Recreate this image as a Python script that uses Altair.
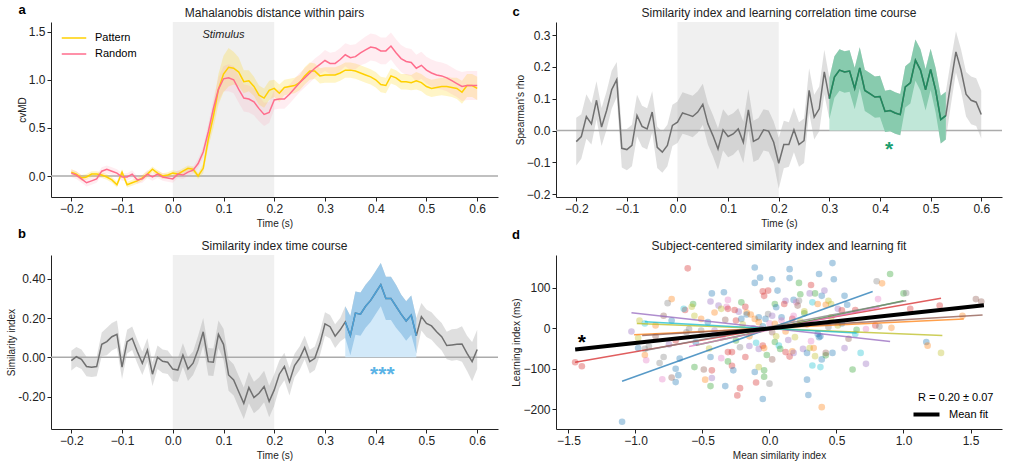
import altair as alt
import numpy as np
import pandas as pd

FONT = "Liberation Sans"
INK = "#222222"

# ---------------------------------------------------------------- data
# sample times (s), 10 ms steps
time_s = np.round(np.arange(-20, 61) / 100, 2)

# a) cross-validated Mahalanobis distance
pattern_md = [0.04, 0.02, -0.02, -0.01, 0.02, 0.02, 0.01, -0.01, -0.04, -0.09,
              0.04, -0.09, -0.07, -0.05, -0.02, 0.02, 0.07, 0.03, 0.00, 0.01,
              0.03, 0.02, 0.05, 0.08, 0.07, 0.00, 0.08, 0.38, 0.62, 0.90,
              1.06, 1.13, 1.12, 1.08, 0.98, 0.99, 0.93, 0.84, 0.81, 0.89,
              0.91, 0.86, 0.92, 0.93, 0.94, 0.97, 1.04, 1.09, 1.09, 1.04,
              1.05, 1.05, 1.05, 1.07, 1.10, 1.10, 1.09, 1.07, 1.05, 1.03,
              1.00, 0.95, 0.94, 1.04, 1.02, 0.98, 0.98, 0.97, 0.99, 0.97,
              0.93, 0.91, 0.92, 0.93, 0.93, 0.92, 0.91, 0.87, 0.94, 0.94, 0.91]
pattern_sem = [0.03] * 20 + \
              [0.03, 0.03, 0.03, 0.03, 0.03, 0.03, 0.05, 0.08, 0.12, 0.16,
               0.19, 0.20, 0.17, 0.15, 0.12, 0.11, 0.10, 0.10, 0.10, 0.10,
               0.09, 0.09, 0.08, 0.08, 0.08, 0.08, 0.09, 0.09, 0.08, 0.08,
               0.08, 0.08, 0.08, 0.08, 0.08, 0.08, 0.08, 0.08, 0.08, 0.08,
               0.08, 0.08, 0.08, 0.08, 0.08, 0.08, 0.08, 0.08, 0.09, 0.09,
               0.09, 0.09, 0.09, 0.09, 0.10, 0.10, 0.11, 0.12, 0.12, 0.12, 0.12]
random_md = [0.03, 0.01, -0.03, -0.07, -0.05, -0.03, 0.05, 0.07, 0.05, 0.03,
             -0.01, -0.01, 0.02, -0.04, -0.03, 0.02, -0.01, 0.02, -0.01, -0.02,
             -0.03, 0.02, 0.01, 0.04, 0.06, 0.13, 0.25, 0.46, 0.70, 0.90,
             1.01, 1.02, 1.00, 0.90, 0.81, 0.80, 0.77, 0.70, 0.64, 0.66,
             0.79, 0.80, 0.80, 0.85, 0.91, 0.97, 1.02, 1.07, 1.12, 1.16,
             1.20, 1.17, 1.17, 1.21, 1.26, 1.23, 1.24, 1.28, 1.31, 1.34,
             1.33, 1.30, 1.30, 1.35, 1.28, 1.22, 1.19, 1.18, 1.12, 1.15,
             1.10, 1.07, 1.05, 1.04, 1.02, 0.99, 0.96, 0.93, 0.94, 0.94, 0.94]
random_sem = [0.04] * 25 + \
             [0.05, 0.06, 0.08, 0.10, 0.12,
              0.13, 0.14, 0.14, 0.14, 0.14, 0.14, 0.14, 0.13, 0.12, 0.11,
              0.10, 0.10, 0.10, 0.10, 0.10, 0.10, 0.10, 0.10, 0.10, 0.10,
              0.11, 0.11, 0.12, 0.12, 0.12, 0.13, 0.13, 0.13, 0.14, 0.14,
              0.14, 0.14, 0.14, 0.14, 0.14, 0.14, 0.14, 0.14, 0.14, 0.14,
              0.14, 0.14, 0.14, 0.14, 0.14, 0.14, 0.14, 0.15, 0.15, 0.15, 0.15]

# b) similarity index
sim_index = [-0.017, 0.003, -0.010, -0.047, -0.050, -0.047, 0.066, 0.080, 0.105, 0.117,
             -0.050, 0.080, 0.097, 0.030, -0.030, 0.037, -0.086, 0.000, -0.020, -0.025,
             -0.060, -0.065, 0.012, -0.060, -0.030, 0.040, 0.130, -0.022, -0.025, 0.117,
             0.066, -0.090, -0.115, -0.175, -0.234, -0.154, -0.205, -0.183, -0.149, -0.225,
             -0.166, -0.086, -0.047, -0.124, -0.042, -0.005, 0.050, -0.022, -0.005, 0.070,
             0.170, 0.156, 0.108, 0.140, 0.180, 0.110, 0.225, 0.220, 0.260, 0.290,
             0.330, 0.370, 0.300, 0.300, 0.260, 0.220, 0.185, 0.215, 0.110, 0.207,
             0.173, 0.160, 0.130, 0.105, 0.060, 0.063, 0.066, 0.068, 0.020, -0.022, 0.040]
sim_sem = [0.05, 0.05, 0.05, 0.05, 0.05, 0.05, 0.06, 0.07, 0.07, 0.07,
           0.06, 0.06, 0.06, 0.06, 0.06, 0.06, 0.06, 0.06, 0.06, 0.06,
           0.06, 0.06, 0.06, 0.06, 0.06, 0.07, 0.07, 0.07, 0.07, 0.07,
           0.08, 0.08, 0.08, 0.08, 0.08, 0.08, 0.08, 0.08, 0.08, 0.08,
           0.08, 0.07, 0.07, 0.07, 0.06, 0.06, 0.06, 0.06, 0.06, 0.06,
           0.06, 0.06, 0.06, 0.06, 0.08, 0.10, 0.11, 0.11, 0.11, 0.11,
           0.11, 0.11, 0.11, 0.11, 0.11, 0.10, 0.10, 0.10, 0.09, 0.07,
           0.07, 0.07, 0.07, 0.07, 0.07, 0.08, 0.08, 0.09, 0.09, 0.10, 0.10]
sim_window = (0.34, 0.48)

# c) Spearman correlation of similarity index with learning
rho = [-0.035, -0.019, 0.044, 0.021, 0.095, 0.011, 0.063, 0.128, 0.160, -0.056,
       -0.060, -0.047, 0.047, 0.013, 0.005, 0.058, -0.053, -0.068, -0.047, 0.016,
       0.026, 0.055, 0.050, 0.044, 0.058, 0.082, 0.021, -0.016, -0.058, 0.002,
       -0.019, -0.011, 0.005, -0.037, 0.065, -0.034, -0.026, 0.002, -0.002, -0.037,
       -0.103, -0.044, -0.044, 0.002, -0.044, -0.032, 0.126, 0.042, 0.068, 0.184,
       0.100, 0.168, 0.190, 0.184, 0.187, 0.132, 0.197, 0.126, 0.116, 0.105,
       0.107, 0.060, 0.063, 0.055, 0.050, 0.137, 0.150, 0.221, 0.190, 0.128,
       0.192, 0.126, 0.034, 0.047, 0.150, 0.247, 0.190, 0.114, 0.095, 0.089, 0.050]
rho_sem = [0.075, 0.070, 0.070, 0.065, 0.060, 0.060, 0.060, 0.060, 0.055, 0.060] + \
          [0.065] * 30 + \
          [0.080, 0.075, 0.070, 0.070, 0.070, 0.070, 0.070, 0.070, 0.070, 0.070] + \
          [0.065] * 20 + \
          [0.065, 0.070, 0.075, 0.075, 0.070, 0.065, 0.065, 0.070, 0.075, 0.075, 0.075]
rho_window = (0.30, 0.53)

# d) subject-centred similarity index vs learning index, one colour per subject
subject_colors = ["#1f77b4", "#ff7f0e", "#2ca02c", "#d62728", "#9467bd",
                  "#8c564b", "#e377c2", "#7f7f7f", "#bcbd22", "#17becf"]
pt_x = [-0.61, -0.11, -0.07, -0.11, 0.02, 0.06, -0.01, -0.05, -0.04, -0.43, -0.34, -0.73, -0.76,
        -0.44, -0.38, -0.57, -0.58, -0.31, -0.32, -0.21, -0.18, -0.23, -0.17, -0.31, -0.26, -0.36,
        -0.41, -0.63, -0.64, -0.17, -0.14, -0.11, -0.08, -0.03, -0.01, 0.04, 0.05, 0.02, 0.09,
        -1.03, -0.97, -0.98, -0.93, -0.85, -0.79, -0.73, -0.56, -0.51, -0.46, -0.33, -0.25, -0.21,
        -0.60, -0.51, -0.41, -0.08, -0.06, 0.00, 0.04, 0.09,
        0.47, 0.15, 0.15, 0.37, 0.48, 0.90, 0.80, 0.84, 0.22, 0.31, 0.34, 0.23, 0.30, 0.39, 0.41,
        0.18, 0.12, 0.11, 0.20, 0.22, 0.32, 0.21, 0.44, 0.36, 0.42, 0.46, 0.56, 0.58, 0.51, 0.54,
        0.64, 0.81, 1.00, 1.02, 1.05, 1.27, 1.44, 1.54, 1.58, 0.79, 0.82, 0.91, 0.72, 0.65, 0.59,
        0.64, 0.51, 0.44, 0.36, 0.46, 0.54, 0.37, 0.26, 0.23, 0.17, 0.18, 0.26, 0.14, 0.31, 0.38,
        -1.45, -1.40, -0.98, -0.93, -0.93, -0.92, -0.79, -0.82, -0.67, -0.70, -0.68, -0.70, -0.73,
        -0.80, -1.10, -0.56, -0.49, -0.43, -0.43, -0.48, -0.44, -0.33, -0.36, -0.44, -0.31, -0.28,
        -0.27, -0.31, -0.28, -0.22, -0.18, -0.15, -0.10, -0.08, -0.05, -0.04, -0.11, -0.08, -0.10,
        -0.22, -0.24, -0.04, -0.04, 0.00, -0.05, -0.02, 0.02, 0.04, 0.07, 0.08,
        1.17, 1.18, 1.28, 0.19, 0.12, 0.15, 0.17, 0.18, 0.25, 0.28, 0.30, 0.33, 0.34, 0.39, 0.42,
        0.42, 0.47, 0.56, 0.68, 0.72, 0.62, 0.32, 0.38, 0.28, 0.29, 0.39,
        -0.85, -0.70, -0.62, -0.55, -0.35, -0.15, -0.12, 0.02, -0.20, 0.10, 0.05, -0.05, -0.90,
        -0.75, -0.25, 0.12, 0.28, -0.45]
pt_y = [148, 150, 125, 112, 121, 93, 93, 91, 80, 86, 89, 72, 62,
        66, 56, 60, 53, 70, 53, 64, 53, 41, 39, 48, 45, 48,
        39, 45, 48, 34, 34, 23, 27, 23, 35, 60, 52, 31, 27,
        -8, 19, -24, 12, 7, 31, 19, 31, 23, 15, 21, 19, 23,
        -2, -6, -6, 15, -2, 12, 11, 19,
        161, 146, 124, 134, 121, 134, 116, 111, 112, 107, 86, 84, 86, 80, 93,
        70, 68, 60, 64, 68, 64, 56, 68, 60, 58, 60, 80, 58, 48, 44,
        45, 72, 86, 87, 48, 56, 31, 72, 66, 7, 4, 1, -2, -4, -26,
        -14, 7, 3, -14, 27, 12, -22, 37, 17, 23, 31, 42, -29, -32, -20,
        -84, -94, -49, -51, -66, -79, -71, -86, -75, -100, -116, -133, -122,
        -126, -231, -96, -102, -104, -123, -127, -143, -143, -74, -71, -82, -93,
        -104, -59, -59, -47, -71, -44, -36, -51, -43, -49, -108, -96, -134,
        -148, -166, -104, -120, -137, -175, -66, -77, -34, -43, -51,
        -34, -43, -61, -22, -59, -70, -57, -61, -51, -61, -49, -49, -69, -77, -67,
        -61, -61, -49, -61, -88, -102, -92, -96, -127, -165, -195,
        -20, -30, -10, -35, -20, -20, 0, -10, 10, 5, -20, 5, -45,
        -40, -30, -8, 10, -50]
pt_subject = [3, 0, 0, 0, 0, 0, 3, 3, 3, 0, 0, 1, 7,
              4, 4, 2, 8, 6, 6, 2, 3, 4, 1, 3, 3, 8,
              1, 3, 9, 0, 1, 1, 0, 0, 7, 2, 0, 4, 0,
              4, 8, 8, 9, 1, 5, 0, 8, 1, 0, 5, 3, 0,
              7, 7, 4, 1, 1, 6, 1, 6,
              0, 0, 0, 0, 0, 2, 7, 1, 2, 3, 2, 2, 4, 0, 4,
              0, 4, 3, 6, 7, 9, 5, 8, 1, 1, 8, 0, 0, 4, 3,
              3, 6, 2, 7, 3, 3, 1, 5, 5, 3, 7, 1, 6, 2, 5,
              9, 8, 7, 0, 8, 0, 0, 2, 8, 3, 6, 8, 4, 6, 0,
              3, 3, 0, 7, 1, 6, 7, 7, 0, 0, 0, 0, 5,
              6, 0, 2, 5, 3, 4, 1, 2, 0, 6, 0, 2, 3,
              0, 3, 3, 7, 3, 4, 9, 4, 3, 1, 0, 8, 3,
              3, 3, 2, 2, 7, 0, 2, 5, 2, 9, 2,
              0, 1, 8, 8, 3, 3, 1, 4, 4, 0, 8, 1, 8, 0, 2,
              5, 0, 4, 9, 4, 2, 9, 9, 0, 0, 1,
              5, 3, 7, 0, 6, 1, 4, 5, 8, 2, 8, 0, 7,
              4, 2, 1, 3, 8]

# per-subject linear fits: colour index, start (x, y), end (x, y)
fit_subject = [0, 3, 4, 8, 1, 5, 2, 7, 6, 9]
fit_x0 = [-1.10, -1.45, -1.03, -0.99, -1.01, -0.95, -0.55, -0.93, -0.60, -0.93]
fit_y0 = [-131, -84, 38, 12, -16, -18, -42, -55, -45, 16]
fit_x1 = [0.77, 1.28, 0.90, 1.29, 1.45, 1.59, 1.00, 1.02, 0.82, 0.65]
fit_y1 = [91, 74, -33, -18, 23, 33, 68, 68, 52, -12]

# group-level fit
mean_fit_x = [-1.45, 1.60]
mean_fit_y = [-52.5, 57.0]

# ---------------------------------------------------------------- styling
GOLD = "#ffd000"
PINK = "#ff6d8c"
GRAY_LINE = "#707070"
BLUE_LINE = "#4aa0d8"
BLUE_BAND = "#a0cbea"
BLUE_FILL = "#d2e9f9"
GREEN_LINE = "#1e8c5f"
GREEN_BAND = "#88cbae"
GREEN_FILL = "#c0e7d8"
ZERO = "#ababab"
STIM = "#f0f0f0"
DASH = "M-2,0H2"   # flat legend glyph, twice as wide as the nominal symbol box

W_L, W_R = 447, 446
H_T, H_B = 175, 174

T_DOMAIN = [-0.24, 0.641]
T_TICKS = [-0.2, -0.1, 0.0, 0.1, 0.2, 0.3, 0.4, 0.5, 0.6]


def t_enc(field="t"):
    return alt.X(f"{field}:Q",
                 scale=alt.Scale(domain=T_DOMAIN, nice=False, zero=False),
                 axis=alt.Axis(values=T_TICKS, format=".1f", title="Time (s)",
                               labelFlush=False, labelOverlap=False))


def y_enc(field, domain, ticks, fmt, title, label_expr=None):
    kw = dict(values=ticks, format=fmt, title=title, labelFlush=False, labelOverlap=False,
              titlePadding=1)
    if label_expr:
        kw["labelExpr"] = label_expr
    return alt.Y(f"{field}:Q", scale=alt.Scale(domain=domain, nice=False, zero=False),
                 axis=alt.Axis(**kw))


def band_frame(values, sem, window=None):
    df = pd.DataFrame({"t": time_s, "v": values, "sem": sem})
    df["lo"] = df["v"] - df["sem"]
    df["hi"] = df["v"] + df["sem"]
    df["zero"] = 0.0
    if window is not None:
        df = df[(df["t"] >= window[0] - 1e-9) & (df["t"] <= window[1] + 1e-9)]
    return df


def header(letter, title_text, width, lx, ly):
    """Bold panel letter plus the centred panel title above the plot area."""
    letter_mark = alt.Chart(pd.DataFrame({"s": [letter]})).mark_text(
        fontSize=13, fontWeight="bold", font=FONT, color="black",
        align="center", baseline="middle"
    ).encode(text="s:N", x=alt.value(lx), y=alt.value(ly))
    title_mark = alt.Chart(pd.DataFrame({"s": [title_text]})).mark_text(
        fontSize=12, font=FONT, color=INK, align="center", baseline="alphabetic"
    ).encode(text="s:N", x=alt.value(width / 2), y=alt.value(-5))
    return [letter_mark, title_mark]


def stim_rect(h):
    return alt.Chart(pd.DataFrame({"t0": [0.0], "t1": [0.2]})).mark_rect(color=STIM).encode(
        x=t_enc("t0"), x2="t1", y=alt.value(0), y2=alt.value(h))


def zero_rule(yenc):
    return alt.Chart(pd.DataFrame({"z": [0.0]})).mark_rule(color=ZERO, strokeWidth=1.5).encode(y=yenc)


# ---------------------------------------------------------------- panel a
A_DOM = [-0.218, 1.60]
a_y = lambda f: y_enc(f, A_DOM, [0.0, 0.5, 1.0, 1.5], ".1f", "cvMD")
a_pat = band_frame(pattern_md, pattern_sem)
a_rnd = band_frame(random_md, random_sem)
a_lines = pd.concat([a_pat.assign(series="Pattern"), a_rnd.assign(series="Random")])

a = alt.layer(
    stim_rect(H_T),
    zero_rule(a_y("z")),
    alt.Chart(a_pat).mark_area(color=GOLD, opacity=0.22).encode(x=t_enc(), y=a_y("lo"), y2="hi"),
    alt.Chart(a_rnd).mark_area(color="#ff8fa6", opacity=0.16).encode(x=t_enc(), y=a_y("lo"), y2="hi"),
    alt.Chart(a_lines).mark_line(strokeWidth=1.5).encode(
        x=t_enc(), y=a_y("v"),
        color=alt.Color("series:N",
                        scale=alt.Scale(domain=["Pattern", "Random"], range=[GOLD, PINK]),
                        legend=alt.Legend(title=None, orient="none", legendX=16, legendY=9,
                                          symbolType=DASH, symbolSize=150,
                                          symbolStrokeWidth=1.5, labelFontSize=11,
                                          labelFont=FONT, labelColor="black",
                                          labelOffset=14, rowPadding=4, padding=0))),
    alt.Chart(pd.DataFrame({"t": [0.1], "y": [1.46], "s": ["Stimulus"]})).mark_text(
        fontSize=11, fontStyle="italic", font=FONT, color=INK).encode(
        x=t_enc(), y=a_y("y"), text="s:N"),
    *header("a", "Mahalanobis distance within pairs", W_L, -29, -12),
).properties(width=W_L, height=H_T)

# ---------------------------------------------------------------- panel b
B_DOM = [-0.365, 0.521]
B_EXPR = "datum.value < 0 ? '-' + format(-datum.value, '.2f') : format(datum.value, '.2f')"
b_y = lambda f: y_enc(f, B_DOM, [-0.2, 0.0, 0.2, 0.4], ".2f", "Similarity index", B_EXPR)
b_all = band_frame(sim_index, sim_sem)
b_sig = band_frame(sim_index, sim_sem, sim_window)

b = alt.layer(
    stim_rect(H_B),
    alt.Chart(b_all).mark_area(color="#8a8a8a", opacity=0.27).encode(x=t_enc(), y=b_y("lo"), y2="hi"),
    zero_rule(b_y("z")),
    alt.Chart(b_sig).mark_area(color=BLUE_FILL, opacity=1).encode(x=t_enc(), y=b_y("v"), y2="zero"),
    alt.Chart(b_sig).mark_area(color=BLUE_BAND, opacity=1).encode(x=t_enc(), y=b_y("lo"), y2="hi"),
    alt.Chart(b_all).mark_line(color=GRAY_LINE, strokeWidth=1.5).encode(x=t_enc(), y=b_y("v")),
    alt.Chart(b_sig).mark_line(color=BLUE_LINE, strokeWidth=1.5).encode(x=t_enc(), y=b_y("v")),
    alt.Chart(pd.DataFrame({"t": [0.413], "y": [-0.073], "s": ["***"]})).mark_text(
        fontSize=21, fontWeight="bold", font=FONT, color="#5ab3e6", baseline="middle", dy=3).encode(
        x=t_enc(), y=b_y("y"), text="s:N"),
    *header("b", "Similarity index time course", W_L, -29, -21),
).properties(width=W_L, height=H_B)

# ---------------------------------------------------------------- panel c
C_DOM = [-0.209, 0.341]
c_y = lambda f: y_enc(f, C_DOM, [-0.2, -0.1, 0.0, 0.1, 0.2, 0.3], ".1f", "Spearman's rho")
c_all = band_frame(rho, rho_sem)
c_sig = band_frame(rho, rho_sem, rho_window)

c = alt.layer(
    stim_rect(H_T),
    alt.Chart(c_all).mark_area(color="#8a8a8a", opacity=0.27).encode(x=t_enc(), y=c_y("lo"), y2="hi"),
    zero_rule(c_y("z")),
    alt.Chart(c_sig).mark_area(color=GREEN_FILL, opacity=1).encode(x=t_enc(), y=c_y("v"), y2="zero"),
    alt.Chart(c_sig).mark_area(color=GREEN_BAND, opacity=1).encode(x=t_enc(), y=c_y("lo"), y2="hi"),
    alt.Chart(c_all).mark_line(color=GRAY_LINE, strokeWidth=1.5).encode(x=t_enc(), y=c_y("v")),
    alt.Chart(c_sig).mark_line(color=GREEN_LINE, strokeWidth=1.5).encode(x=t_enc(), y=c_y("v")),
    alt.Chart(pd.DataFrame({"t": [0.418], "y": [-0.053], "s": ["*"]})).mark_text(
        fontSize=21, fontWeight="bold", font=FONT, color="#1a9e6e", baseline="middle", dy=3).encode(
        x=t_enc(), y=c_y("y"), text="s:N"),
    *header("c", "Similarity index and learning correlation time course", W_R, -40, -10),
).properties(width=W_R, height=H_T)

# ---------------------------------------------------------------- panel d
D_XDOM = [-1.593, 1.735]
D_YDOM = [-249, 181]
d_x = alt.X("x:Q", scale=alt.Scale(domain=D_XDOM, nice=False, zero=False),
            axis=alt.Axis(values=[-1.5, -1.0, -0.5, 0.0, 0.5, 1.0, 1.5], format=".1f",
                          title="Mean similarity index", labelFlush=False, labelOverlap=False))
d_y = alt.Y("y:Q", scale=alt.Scale(domain=D_YDOM, nice=False, zero=False),
            axis=alt.Axis(values=[-200, -100, 0, 100], format="d", titlePadding=1,
                          title="Learning index (ms)", labelFlush=False, labelOverlap=False))

d_pts = pd.DataFrame({"x": pt_x, "y": pt_y,
                      "hex": [subject_colors[i] for i in pt_subject]})
fit_rows = []
for k, ci in enumerate(fit_subject):
    fit_rows.append({"fit": k, "x": fit_x0[k], "y": fit_y0[k], "hex": subject_colors[ci]})
    fit_rows.append({"fit": k, "x": fit_x1[k], "y": fit_y1[k], "hex": subject_colors[ci]})
d_fits = pd.DataFrame(fit_rows)
d_mean = pd.DataFrame({"x": mean_fit_x, "y": mean_fit_y, "label": ["Mean fit"] * 2})

d = alt.layer(
    alt.Chart(d_pts).mark_circle(size=44, opacity=0.36).encode(
        x=d_x, y=d_y, fill=alt.Fill("hex:N", scale=None)),
    alt.Chart(d_fits).mark_line(strokeWidth=1.5, opacity=0.75).encode(
        x=d_x, y=d_y, detail="fit:N", stroke=alt.Stroke("hex:N", scale=None)),
    alt.Chart(d_mean).mark_line(strokeWidth=4).encode(
        x=d_x, y=d_y,
        color=alt.Color("label:N", scale=alt.Scale(domain=["Mean fit"], range=["black"]),
                        legend=alt.Legend(title="R = 0.20 ± 0.07", orient="none",
                                          legendX=362, legendY=137,
                                          symbolType=DASH, symbolSize=169,
                                          symbolStrokeWidth=4, labelFontSize=11,
                                          titleFontSize=11, titleFontWeight="normal",
                                          titleFont=FONT, labelFont=FONT,
                                          titleColor="black", labelColor="black",
                                          labelOffset=14, padding=0, titlePadding=3))),
    alt.Chart(pd.DataFrame({"x": [-1.40], "y": [-25], "s": ["*"]})).mark_text(
        fontSize=21, fontWeight="bold", font=FONT, color="black", baseline="middle", dy=5).encode(
        x=d_x, y=d_y, text="s:N"),
    *header("d", "Subject-centered similarity index and learning fit", W_R, -40, -20),
).properties(width=W_R, height=H_B)

chart = alt.concat(a, c, b, d, columns=2, spacing=58, bounds="flush").resolve_scale(
    color="independent", fill="independent", stroke="independent"
).resolve_legend(
    color="independent", fill="independent", stroke="independent"
).properties(
    padding={"left": 6, "top": 4, "right": 5, "bottom": 2}
).configure(font=FONT).configure_view(
    stroke=None
).configure_axis(
    grid=False, domainColor=INK, tickColor=INK, labelColor=INK, titleColor=INK,
    labelFont=FONT, titleFont=FONT, labelFontSize=12, titleFontSize=10,
    titleFontWeight="normal", tickSize=4, labelPadding=2, titlePadding=4, domainWidth=1
)

chart.save("out.html", embed_options={"renderer": "svg", "actions": False})
